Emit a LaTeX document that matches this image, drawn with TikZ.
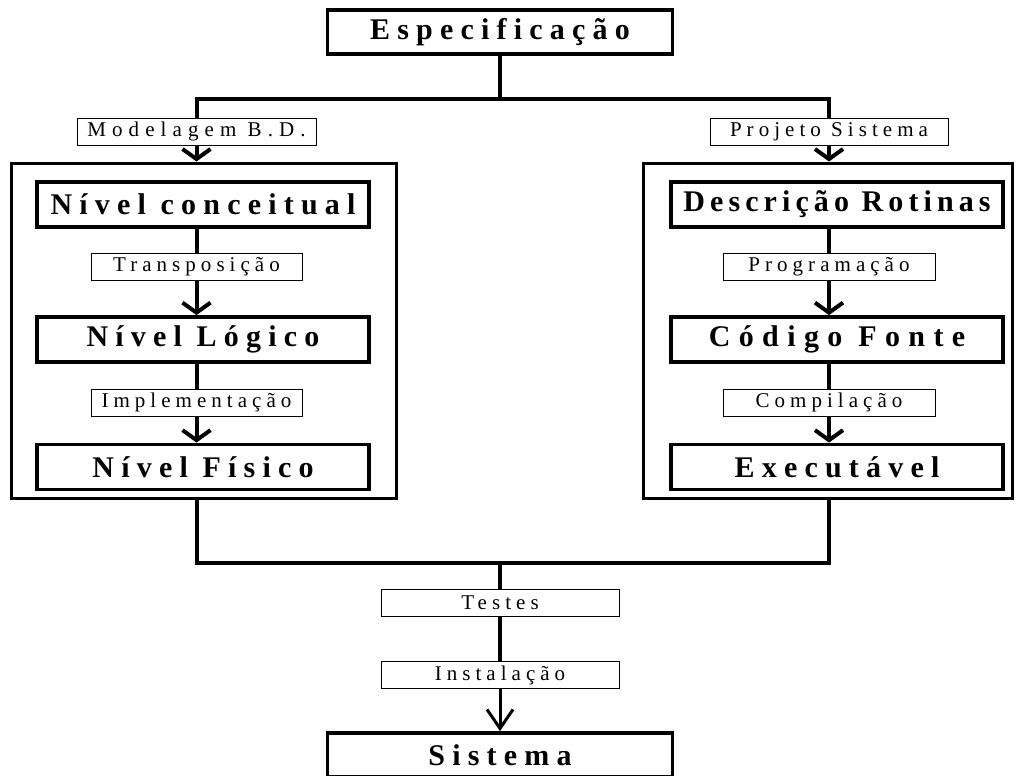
\documentclass[tikz,border=0pt]{standalone}
\usepackage{fontspec}
\setmainfont{Liberation Serif}
\usetikzlibrary{arrows.meta}
\begin{document}
\begin{tikzpicture}[x=1pt, y=-1pt, >={Straight Barb[length=10pt,width=28pt]},
	etapa/.style={draw, line width=3.8pt, inner sep=0pt, minimum width=332pt, minimum height=45pt,
		font=\fontsize{30}{36}\selectfont\bfseries\addfontfeature{LetterSpace=24}},
	passo/.style={draw, fill=white, line width=0.8pt, inner sep=0pt, minimum height=27pt,
		font=\fontsize{21}{24}\selectfont\addfontfeature{LetterSpace=24}},
	bloco/.style={draw, line width=3pt, inner sep=0pt, minimum height=335pt},
	conn/.style={line width=4pt},
	fim/.style={line width=3pt, -{Straight Barb[length=19pt,width=26pt]}}]
	\useasboundingbox (0,0) rectangle (1017,776);
	\node[bloco, minimum width=385pt] (blocoBD) at (203.5,330.5) {};
	\node[bloco, minimum width=369pt] (blocoSis) at (827.5,330.5) {};
	\node[etapa, minimum width=345pt, minimum height=44pt] (espec) at (500,32) {Especificação};
	\node[etapa] (conceit) at (203,204.5) {Nível conceitual};
	\node[etapa] (logico) at (203,339.5) {Nível Lógico};
	\node[etapa] (fisico) at (203,467) {Nível Físico};
	\node[etapa] (rotinas) at (837,204.5) {\addfontfeature{LetterSpace=17}Descrição Rotinas};
	\node[etapa] (fonte) at (837,339.5) {\addfontfeature{LetterSpace=28}Código Fonte};
	\node[etapa] (exec) at (837,467) {Executável};
	\node[etapa, minimum width=345pt, minimum height=44pt] (sistema) at (500,755) {Sistema};
	\node[passo, minimum width=239pt] (modelagem) at (196.5,131.5) {\addfontfeature{LetterSpace=29}Modelagem B.D.};
	\node[passo, minimum width=238pt] (projeto) at (829,131.5) {Projeto Sistema};
	\node[passo, minimum width=211pt] (transp) at (196.5,267) {Transposição};
	\node[passo, minimum width=211pt] (implem) at (196.5,402.5) {Implementação};
	\node[passo, minimum width=212pt] (program) at (829,267) {Programação};
	\node[passo, minimum width=212pt] (compil) at (829,402.5) {Compilação};
	\node[passo, minimum width=238pt] (testes) at (500,602.5) {Testes};
	\node[passo, minimum width=238pt] (instal) at (500,675) {Instalação};
	\coordinate (divide) at (500,99);
	\coordinate (junta) at (500,563);
	\draw[conn] (espec.south) -- (divide);
	\draw[conn] (modelagem.north) |- (divide) -| (projeto.north);
	\draw[conn,->] (modelagem.south) -- (modelagem.south |- blocoBD.north);
	\draw[conn,->] (projeto.south) -- (projeto.south |- blocoSis.north);
	\draw[conn] (transp.north |- conceit.south) -- (transp.north);
	\draw[conn,->] (transp.south) -- (transp.south |- logico.north);
	\draw[conn] (implem.north |- logico.south) -- (implem.north);
	\draw[conn,->] (implem.south) -- (implem.south |- fisico.north);
	\draw[conn] (program.north |- rotinas.south) -- (program.north);
	\draw[conn,->] (program.south) -- (program.south |- fonte.north);
	\draw[conn] (compil.north |- fonte.south) -- (compil.north);
	\draw[conn,->] (compil.south) -- (compil.south |- exec.north);
	\draw[conn] (blocoBD.south -| modelagem) |- (junta) -| (blocoSis.south -| projeto);
	\draw[conn] (junta) -- (testes.north);
	\draw[conn] (testes.south) -- (instal.north);
	\draw[fim] (instal.south) -- (sistema.north);
\end{tikzpicture}
\end{document}
